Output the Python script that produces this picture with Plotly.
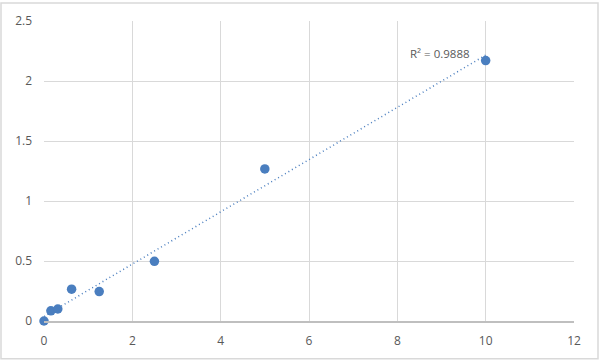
import numpy as np
import plotly.graph_objects as go

x_vals = [0, 0.156, 0.3125, 0.625, 1.25, 2.5, 5, 10]
y_vals = [0, 0.085, 0.1, 0.265, 0.245, 0.497, 1.267, 2.17]
x_ticks = [0, 2, 4, 6, 8, 10, 12]
y_ticks = [0, 0.5, 1, 1.5, 2, 2.5]
r2_label = "R² = 0.9888"

slope, intercept = np.polyfit(x_vals, y_vals, 1)
tx = [min(x_vals), max(x_vals)]
ty = [slope * v + intercept for v in tx]

W, H = 600, 361
ml, mr, mt, mb = 44, 26, 19, 40
pw, ph = W - ml - mr, H - mt - mb

fig = go.Figure()
fig.add_trace(go.Scatter(x=tx, y=ty, mode="lines",
                         line=dict(color="#4a7ebf", width=1.5, dash="1px,3px"),
                         hoverinfo="skip", showlegend=False))
fig.add_trace(go.Scatter(x=x_vals, y=y_vals, mode="markers",
                         marker=dict(color="#4a7ebf", size=9.5),
                         showlegend=False, cliponaxis=False))

fig.add_annotation(x=9.68, y=2.23, text=r2_label, showarrow=False,
                   xanchor="right", yanchor="middle",
                   font=dict(family="Open Sans", size=11.5, color="#595959"))

fig.add_shape(type="rect", xref="paper", yref="paper",
              x0=(1 - ml) / pw, x1=(W - 2 - ml) / pw,
              y0=-(mb - 2) / ph, y1=(H - 1 - mb) / ph,
              line=dict(color="#d9d9d9", width=1.5), layer="below")

fig.update_layout(
    width=W, height=H,
    margin=dict(l=ml, r=mr, t=mt, b=mb),
    paper_bgcolor="white", plot_bgcolor="white",
    font=dict(family="Open Sans", size=12, color="#595959"),
    xaxis=dict(range=[0, 12], tickvals=x_ticks, showgrid=True,
               gridcolor="#d9d9d9", gridwidth=1, zeroline=False,
               showline=True, linecolor="#bfbfbf", linewidth=2,
               ticks="", ticklabelstandoff=8,
               tickfont=dict(size=12, color="#595959")),
    yaxis=dict(range=[0, 2.5], tickvals=y_ticks, showgrid=True,
               gridcolor="#d9d9d9", gridwidth=1, zeroline=False,
               showline=False, ticks="", ticklabelstandoff=11,
               tickfont=dict(size=12, color="#595959")),
)

fig.write_html("out.html")
